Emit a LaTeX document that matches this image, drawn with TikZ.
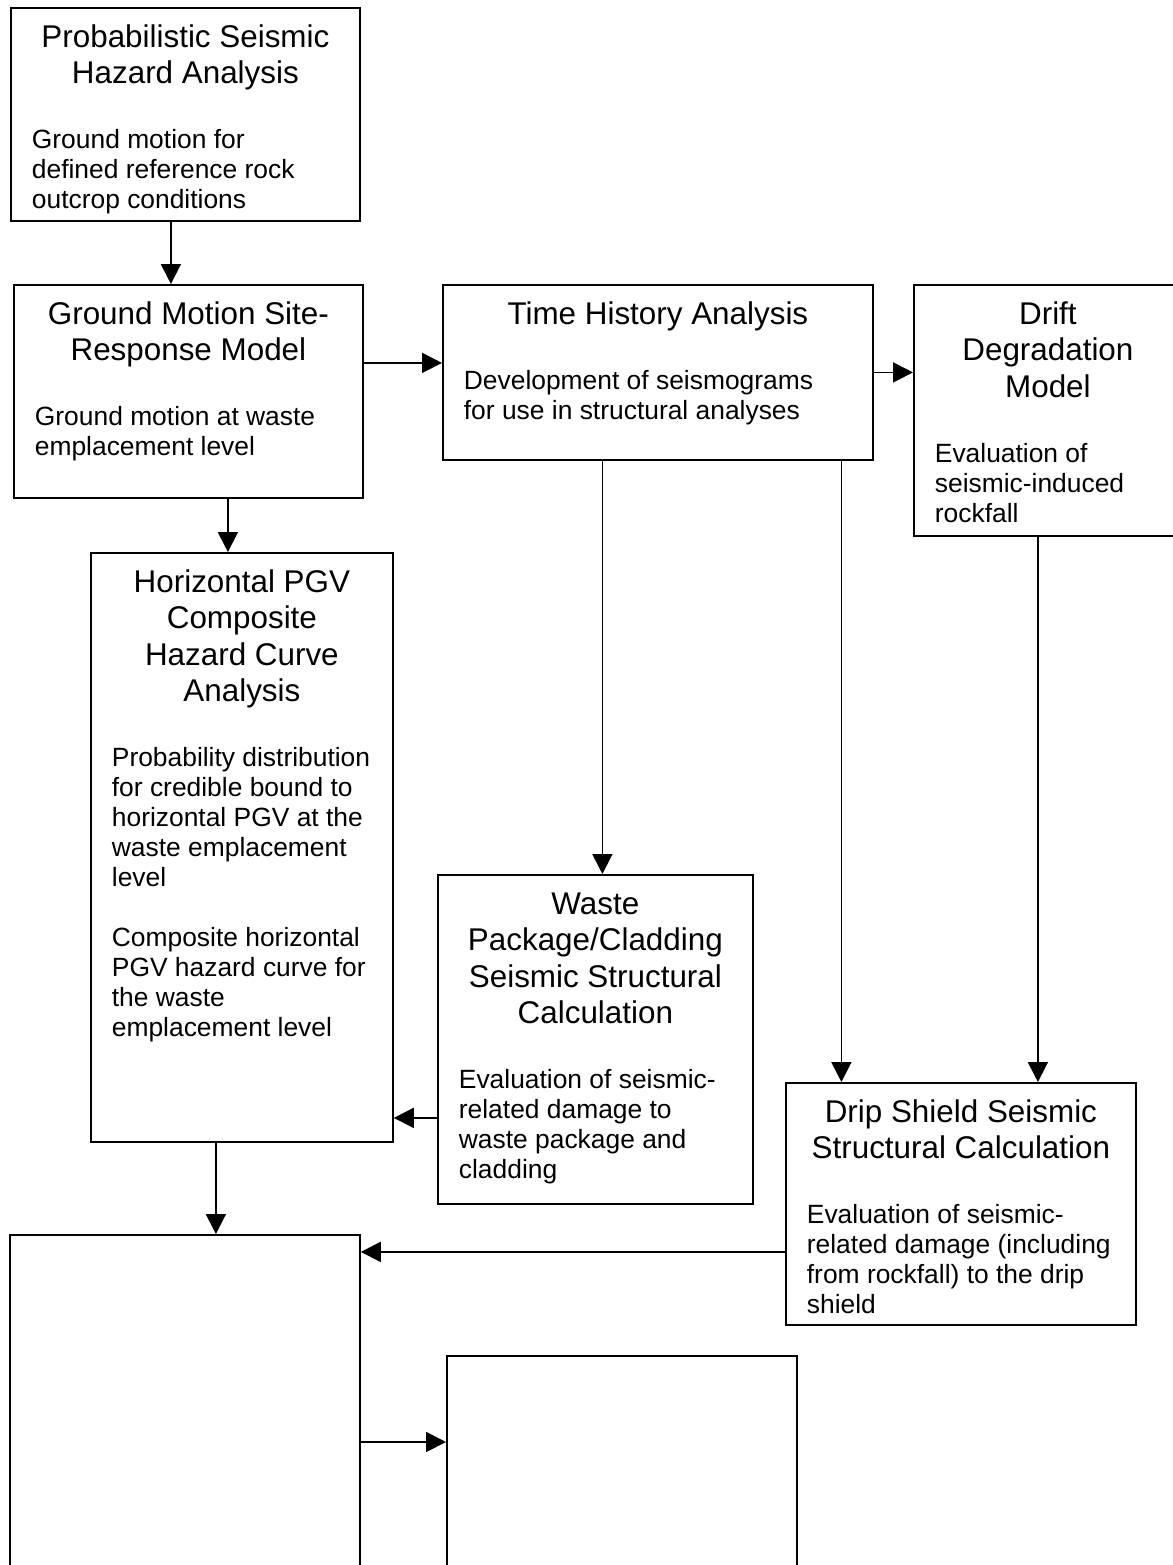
\documentclass[tikz,border=0pt]{standalone}
\usepackage{fontspec}
\setmainfont{Liberation Sans}
\usetikzlibrary{arrows.meta}

\newcommand{\titlefont}{\fontsize{15.7pt}{18.25pt}\selectfont}
\newcommand{\descfont}{\fontsize{13.2pt}{15pt}\selectfont}
\newcommand{\boxtext}[3]{\parbox[t]{#1}{\centering\titlefont #2\par
	\vskip17.5pt\raggedright\descfont #3\par}}

\tikzset{
	blk/.style={draw, line width=0.9pt, inner sep=0, anchor=north west},
	txt/.style={inner sep=0, anchor=base},
	arr/.style={-{Triangle[length=10pt,width=10pt]}, line width=0.9pt}
}

\begin{document}
\begin{tikzpicture}[x=0.5pt, y=-0.5pt]
	\useasboundingbox (0,0) rectangle (1173,1565);
	\clip (0,0) rectangle (1173,1565);

	% boxes
	\node[blk, minimum width=174.5pt, minimum height=106.5pt] (psha) at (10,7) {};
	\node[blk, minimum width=174.5pt, minimum height=106.5pt] (gmsr) at (13,284) {};
	\node[blk, minimum width=215pt, minimum height=87.5pt] (tha) at (442,284) {};
	\node[blk, minimum width=134pt, minimum height=125.5pt] (drift) at (913,284) {};
	\node[blk, minimum width=151pt, minimum height=294.5pt] (hpgv) at (90,552) {};
	\node[blk, minimum width=157.5pt, minimum height=164.5pt] (wp) at (437,874) {};
	\node[blk, minimum width=175pt, minimum height=121pt] (drip) at (785,1082) {};
	\node[blk, minimum width=175pt, minimum height=200pt] (blank1) at (9,1234) {};
	\node[blk, minimum width=175pt, minimum height=150pt] (blank2) at (446,1355) {};

	% texts
	\node[txt] (psha-txt) at ([yshift=-20pt]psha.north) {\boxtext{153.5pt}
		{Probabilistic Seismic\\Hazard Analysis}
		{Ground motion for\\defined reference rock\\outcrop conditions}};
	\node[txt] (gmsr-txt) at ([yshift=-20pt]gmsr.north) {\boxtext{153.5pt}
		{Ground Motion Site-\\Response Model}
		{Ground motion at waste\\emplacement level}};
	\node[txt] (tha-txt) at ([yshift=-20pt]tha.north) {\boxtext{194pt}
		{Time History Analysis}
		{Development of seismograms\\for use in structural analyses}};
	\node[txt] (drift-txt) at ([yshift=-20pt]drift.north) {\boxtext{113pt}
		{Drift\\Degradation\\Model}
		{Evaluation of\\seismic-induced\\rockfall}};
	\node[txt] (hpgv-txt) at ([yshift=-20pt]hpgv.north) {\boxtext{130pt}
		{Horizontal PGV\\Composite\\Hazard Curve\\Analysis}
		{Probability distribution\\for credible bound to\\horizontal PGV at the\\waste emplacement\\level\par
		\vskip15pt Composite horizontal\\PGV hazard curve for\\the waste\\emplacement level}};
	\node[txt] (wp-txt) at ([yshift=-20pt]wp.north) {\boxtext{136.5pt}
		{Waste\\Package/Cladding\\Seismic Structural\\Calculation}
		{Evaluation of seismic-\\related damage to\\waste package and\\cladding}};
	\node[txt] (drip-txt) at ([yshift=-20pt]drip.north) {\boxtext{154pt}
		{Drip Shield Seismic\\Structural Calculation}
		{Evaluation of seismic-\\related damage (including\\from rockfall) to the drip\\shield}};

	% arrows
	\draw[arr] ([xshift=-7.25pt]psha.south) -- ([xshift=-7.25pt]psha.south |- gmsr.north);
	\draw[arr] ([yshift=14.25pt]gmsr.east) -- ([yshift=14.25pt]gmsr.east -| tha.west);
	\draw[arr] (tha.east) -- (tha.east -| drift.west);
	\draw[arr] ([xshift=19.75pt]gmsr.south) -- ([xshift=19.75pt]gmsr.south |- hpgv.north);
	\draw[arr] ([xshift=-27.75pt]tha.south) -- ([xshift=-27.75pt]tha.south |- wp.north);
	\draw[arr] ([xshift=91.75pt]tha.south) -- ([xshift=91.75pt]tha.south |- drip.north);
	\draw[arr] ([xshift=-5pt]drift.south) -- ([xshift=-5pt]drift.south |- drip.north);
	\draw[arr] ([yshift=-39.25pt]wp.west) -- ([yshift=-39.25pt]wp.west -| hpgv.east);
	\draw[arr] ([xshift=-13pt]hpgv.south) -- ([xshift=-13pt]hpgv.south |- blank1.north);
	\draw[arr] ([yshift=-24pt]drip.west) -- ([yshift=-24pt]drip.west -| blank1.east);
	\draw[arr] ([yshift=-104pt]blank1.north east) -- ([yshift=-104pt]blank1.north east -| blank2.west);
\end{tikzpicture}
\end{document}
